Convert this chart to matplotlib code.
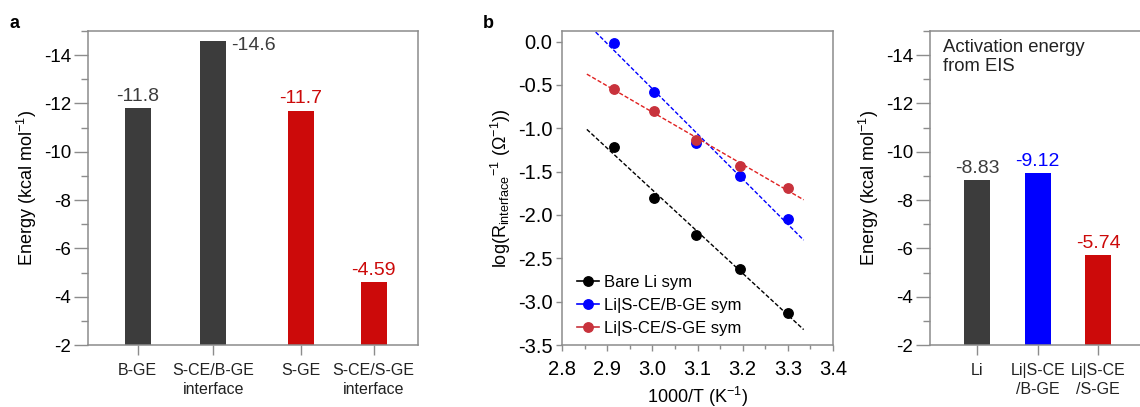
import numpy as np
import matplotlib
matplotlib.use("Agg")
import matplotlib.pyplot as plt
from matplotlib.ticker import MultipleLocator, FormatStrFormatter

plt.rcParams['font.family'] = ['Liberation Sans', 'DejaVu Sans']
plt.rcParams['mathtext.fontset'] = 'custom'
plt.rcParams['mathtext.rm'] = 'Liberation Sans'
plt.rcParams['mathtext.it'] = 'Liberation Sans'

# ---------------- data ----------------
a_categories = ["B-GE", "S-CE/B-GE\ninterface", "S-GE", "S-CE/S-GE\ninterface"]
a_values = [-11.8, -14.6, -11.7, -4.59]
a_labels = ["-11.8", "-14.6", "-11.7", "-4.59"]

b_x = [2.915, 3.003, 3.096, 3.195, 3.300]
b_bare = [-1.22, -1.80, -2.23, -2.62, -3.13]
b_sceb = [-0.02, -0.58, -1.17, -1.55, -2.05]
b_sces = [-0.55, -0.80, -1.13, -1.43, -1.69]
b_names = ["Bare Li sym", "Li|S-CE/B-GE sym", "Li|S-CE/S-GE sym"]
fit_range = (2.855, 3.335)

c_categories = ["Li", "Li|S-CE\n/B-GE", "Li|S-CE\n/S-GE"]
c_values = [-8.83, -9.12, -5.74]
c_labels = ["-8.83", "-9.12", "-5.74"]

# ---------------- style ----------------
DARK = '#3c3c3c'
RED = '#cc0a0a'
BLUE = '#0000ff'
SPINE = '#8c8c8c'

W, H = 1140, 407
fig = plt.figure(figsize=(W / 100, H / 100), dpi=100)

def px_axes(x0, x1, y0, y1):
    return fig.add_axes([x0 / W, 1 - y1 / H, (x1 - x0) / W, (y1 - y0) / H])

def style_spines(ax, right=True):
    for s in ax.spines.values():
        s.set_color(SPINE)
        s.set_linewidth(1.1)
    if not right:
        ax.spines['right'].set_visible(False)

def energy_axis(ax):
    ax.set_ylim(-2, -15)
    ax.set_yticks([-14, -12, -10, -8, -6, -4, -2])
    ax.set_yticklabels(["-14", "-12", "-10", "-8", "-6", "-4", "-2"])
    ax.yaxis.set_minor_locator(MultipleLocator(1))
    ax.tick_params(axis='y', which='major', direction='out', length=10, width=1, color=SPINE,
                   labelsize=13.5, pad=2)
    ax.tick_params(axis='y', which='minor', direction='out', length=5, width=1, color=SPINE)
    ax.tick_params(axis='x', which='major', direction='out', length=7, width=1, color=SPINE,
                   labelsize=11.5, pad=6, labelcolor='#222222')
    ax.set_ylabel("Energy (kcal mol$^{-1}$)", fontsize=13, labelpad=4)

# ---------------- panel a ----------------
axa = px_axes(88, 418, 31, 345)
a_pos = [1, 2, 3.16, 4.12]
a_colors = [DARK, DARK, RED, RED]
axa.bar(a_pos, a_values, width=0.344, bottom=0, color=a_colors, zorder=2)
axa.set_xlim(0.343, 4.708)
energy_axis(axa)
axa.set_xticks(a_pos)
axa.set_xticklabels(a_categories, linespacing=1.35)
style_spines(axa)
txt_col = [DARK, DARK, RED, RED]
for i, (p, v, lab) in enumerate(zip(a_pos, a_values, a_labels)):
    if i == 1:
        axa.text(p + 0.24, v + 0.2, lab, ha='left', va='center', fontsize=14, color=DARK)
    else:
        axa.text(p, v - 0.15, lab, ha='center', va='bottom', fontsize=14, color=txt_col[i])
fig.text(10 / W, 1 - 23 / H, "a", fontsize=13, fontweight='bold', va='center')

# ---------------- panel b ----------------
axb = px_axes(562, 833, 31, 345)
fx = np.linspace(fit_range[0], fit_range[1], 50)
series = [(b_bare, 'black', 'black'),
          (b_sceb, BLUE, BLUE),
          (b_sces, '#c8323c', '#e02020')]
handles = []
for (ys, mcol, lcol), name in zip(series, b_names):
    k, b0 = np.polyfit(b_x, ys, 1)
    axb.plot(fx, k * fx + b0, ls=(0, (3, 1.5)), color=lcol, lw=1.0, zorder=2)
    axb.plot(b_x, ys, 'o', color=mcol, ms=6.8, zorder=3)
    h, = axb.plot([], [], '-o', color=mcol, ms=6.8, lw=1.2, label=name)
    handles.append(h)
axb.set_xlim(2.8, 3.4)
axb.set_ylim(-3.5, 0.123)
axb.xaxis.set_major_locator(MultipleLocator(0.1))
axb.xaxis.set_minor_locator(MultipleLocator(0.05))
axb.yaxis.set_major_locator(MultipleLocator(0.5))
axb.xaxis.set_major_formatter(FormatStrFormatter('%.1f'))
axb.yaxis.set_major_formatter(FormatStrFormatter('%.1f'))
axb.tick_params(which='major', direction='out', length=4, width=1, color=SPINE, labelsize=14.5)
axb.tick_params(which='minor', direction='out', length=3, width=1, color=SPINE)
axb.tick_params(axis='x', pad=7)
axb.tick_params(axis='y', pad=3)
style_spines(axb)
axb.set_xlabel("1000/T (K$^{-1}$)", fontsize=13, labelpad=4)
axb.set_ylabel(r"log(R$_{\mathrm{interface}}$$^{\mathrm{-1}}$ ($\Omega^{\mathrm{-1}}$))",
               fontsize=13, labelpad=3)
axb.legend(handles=handles, loc='lower left', frameon=False, fontsize=12,
           handlelength=1.3, handletextpad=0.3, labelspacing=0.5,
           bbox_to_anchor=(0.0, -0.02))
fig.text(483 / W, 1 - 24 / H, "b", fontsize=13, fontweight='bold', va='center')

# ---------------- panel c ----------------
axc = px_axes(930, 1160, 31, 345)
c_pos = [1, 2, 3]
c_colors = [DARK, BLUE, RED]
axc.bar(c_pos, c_values, width=0.43, color=c_colors, zorder=2)
axc.set_xlim(0.223, 4.02)
energy_axis(axc)
axc.set_xticks(c_pos)
axc.set_xticklabels(c_categories, linespacing=1.35)
style_spines(axc, right=False)
for p, v, lab, col in zip(c_pos, c_values, c_labels, c_colors):
    axc.text(p, v - 0.12, lab, ha='center', va='bottom', fontsize=14, color=col)
axc.text(0.055, 0.975, "Activation energy\nfrom EIS", transform=axc.transAxes,
         ha='left', va='top', fontsize=13.3, color='#222222', linespacing=1.15)

fig.savefig("out.png", dpi=100)
